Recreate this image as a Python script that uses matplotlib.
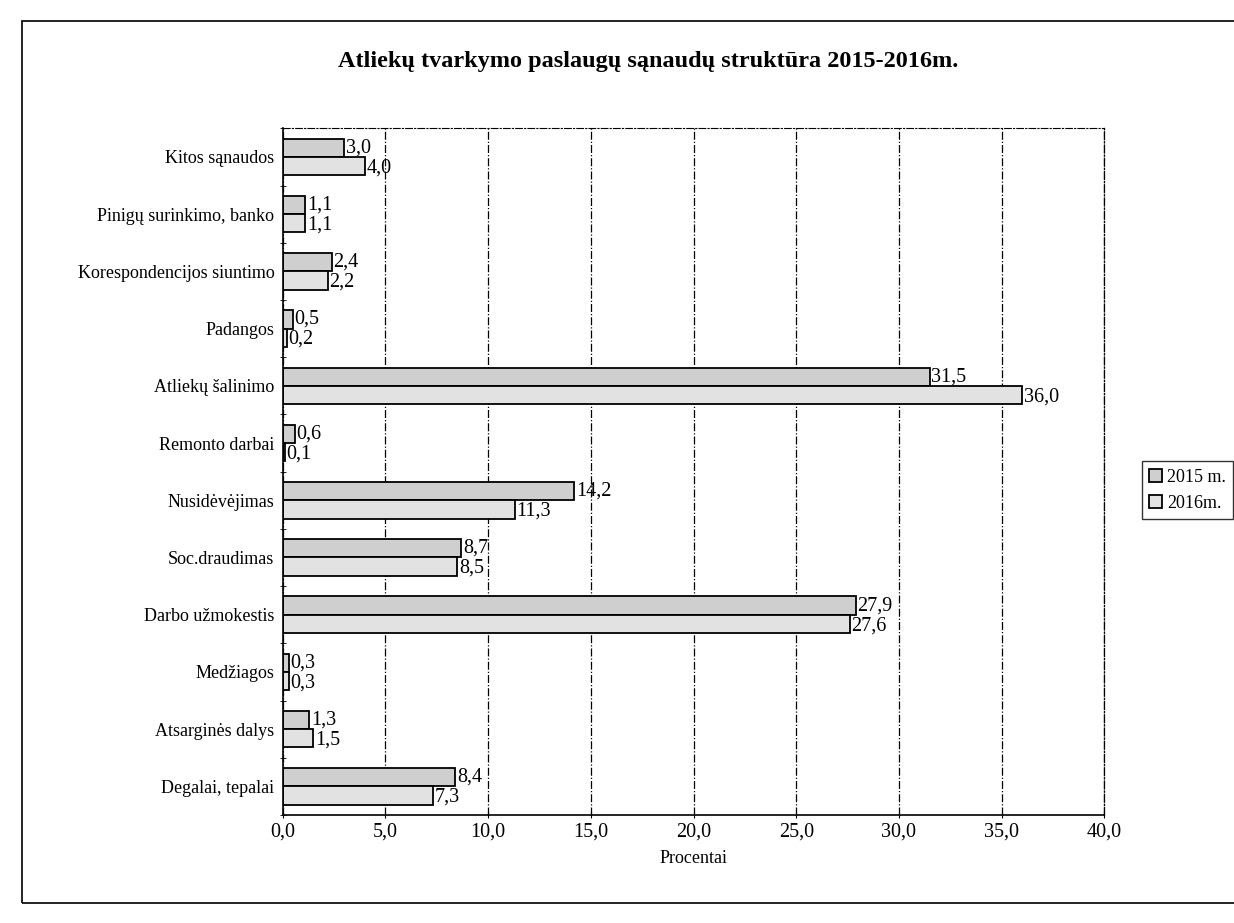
import matplotlib
matplotlib.use('Agg')
import matplotlib.pyplot as plt
import matplotlib.ticker as mticker
import numpy as np

plt.rcParams.update({
    'font.family': ['Liberation Serif', 'DejaVu Serif'],
    'font.size': 12,
})

categories = ['Kitos sąnaudos', 'Pinigų surinkimo, banko', 'Korespondencijos siuntimo',
              'Padangos', 'Atliekų šalinimo', 'Remonto darbai', 'Nusidėvėjimas',
              'Soc.draudimas', 'Darbo užmokestis', 'Medžiagos', 'Atsarginės dalys',
              'Degalai, tepalai']
v2015 = [3.0, 1.1, 2.4, 0.5, 31.5, 0.6, 14.2, 8.7, 27.9, 0.3, 1.3, 8.4]
v2016 = [4.0, 1.1, 2.2, 0.2, 36.0, 0.1, 11.3, 8.5, 27.6, 0.3, 1.5, 7.3]
series_names = ['2015 m.', '2016m.']

fig = plt.figure(figsize=(12.34, 9.23), dpi=100)
ax = fig.add_axes([0.229, 0.117, 0.666, 0.744])

# outer frame like the scanned page
fig.patches.append(plt.Rectangle((0.018, 0.022), 1.0, 0.955, transform=fig.transFigure,
                                 fill=False, edgecolor='black', linewidth=1.2))

y = np.arange(len(categories))[::-1]
h = 0.32
b1 = ax.barh(y + h / 2, v2015, height=h, color='#cfcfcf', edgecolor='black', linewidth=1.3,
             label=series_names[0])
b2 = ax.barh(y - h / 2, v2016, height=h, color='#e2e2e2', edgecolor='black', linewidth=1.3,
             label=series_names[1])

fmt = lambda v: f'{v:.1f}'.replace('.', ',')
for bar, v in zip(b1, v2015):
    ax.text(bar.get_width() + 0.08, bar.get_y() + bar.get_height() / 2 + 0.0, fmt(v),
            ha='left', va='center', fontsize=14.5)
for bar, v in zip(b2, v2016):
    ax.text(bar.get_width() + 0.08, bar.get_y() + bar.get_height() / 2 - 0.03, fmt(v),
            ha='left', va='center', fontsize=14.5)

ax.set_xlim(0, 40)
ax.set_ylim(-0.5, len(categories) - 0.5)
ax.xaxis.set_major_locator(mticker.MultipleLocator(5))
ax.xaxis.set_major_formatter(mticker.FuncFormatter(lambda v, p: fmt(v)))
ax.set_yticks(y)
ax.set_yticklabels(categories, fontsize=13)
ax.tick_params(axis='y', length=0, pad=6)
ax.tick_params(axis='x', length=5, labelsize=14.5, pad=3, direction='inout')
# small ticks between categories
ax.set_yticks(np.arange(len(categories) + 1) - 0.5, minor=True)
ax.tick_params(axis='y', which='minor', length=5, direction='inout')

ax.xaxis.grid(True, color='black', linestyle='-.', linewidth=0.9)
ax.set_axisbelow(True)
ax.spines['right'].set_linestyle('-.')
ax.spines['right'].set_linewidth(0.9)
ax.spines['top'].set_linestyle((0, (6, 2, 1, 2)))
ax.spines['top'].set_linewidth(0.8)
ax.spines['left'].set_linewidth(1.2)
ax.spines['bottom'].set_linewidth(1.2)

ax.set_xlabel('Procentai', fontsize=13, labelpad=6)
fig.text(0.525, 0.933, 'Atliekų tvarkymo paslaugų sąnaudų struktūra 2015-2016m.',
         fontsize=17.5, fontweight='bold', ha='center', va='center')

fig.legend(handles=[b1, b2], loc='center left', bbox_to_anchor=(0.918, 0.469),
           fontsize=13, frameon=True, fancybox=False, edgecolor='black',
           handlelength=0.7, handleheight=0.7, handletextpad=0.3, borderpad=0.4,
           labelspacing=0.5)

plt.savefig('out.png', dpi=100)
plt.close()
